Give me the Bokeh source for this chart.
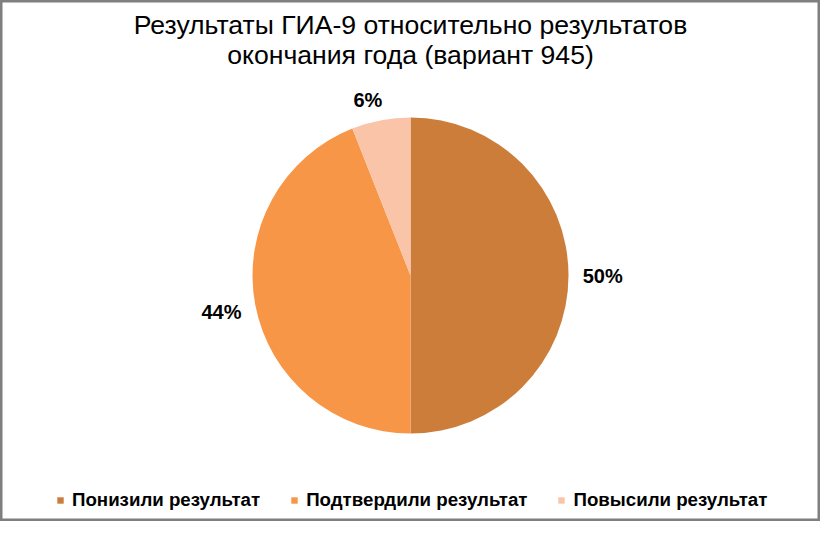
import numpy as np
from bokeh.plotting import figure
from bokeh.models import ColumnDataSource, Range1d, Legend, LegendItem
from bokeh.core.properties import value
from bokeh.embed import file_html
from bokeh.resources import INLINE

# ---- data ----
title_lines = ["Результаты ГИА-9 относительно результатов",
               "окончания года (вариант 945)"]
categories = ["Понизили результат", "Подтвердили результат", "Повысили результат"]
shares = [50, 44, 6]
colors = ["#CD7D3A", "#F79646", "#F9C4A8"]

FONT = "Liberation Sans"
W, H = 820, 521

p = figure(width=W, height=H, x_range=Range1d(0, W), y_range=Range1d(0, H),
           output_backend="svg", toolbar_location=None, min_border=0)
p.axis.visible = False
p.grid.visible = False
p.outline_line_color = "#7F7F7F"
p.outline_line_width = 4
p.background_fill_color = "white"
p.border_fill_color = "white"

# title
p.text(x=[W / 2, W / 2], y=[497, 467], text=title_lines,
       text_font=value(FONT), text_font_size="26.6px", text_color="black",
       text_align="center", text_baseline="middle")

# pie
cx, cy, r = 410, 246, 158
vals = np.array(shares, dtype=float)
frac = vals / vals.sum()
ends = np.cumsum(frac) * 2 * np.pi
starts = ends - frac * 2 * np.pi
src = ColumnDataSource(dict(cat=categories,
                            start=np.pi / 2 - starts,
                            end=np.pi / 2 - ends,
                            color=colors))
wr = p.wedge(x=cx, y=cy, radius=r, start_angle="start", end_angle="end",
             direction="clock", fill_color="color", line_color=None, source=src)

# data labels outside end
mid = np.pi / 2 - (starts + ends) / 2
labels = [f"{int(v)}%" for v in shares]
lw = np.array([11.5 * len(t) for t in labels])
lh = 6.0
dist = r + 17 + np.abs(np.cos(mid)) * lw / 2 + np.abs(np.sin(mid)) * lh / 2
ang = mid + 0.05 * (np.abs(np.sin(mid)) > 0.9)
lsrc = ColumnDataSource(dict(x=cx + dist * np.cos(ang), y=cy + dist * np.sin(ang), t=labels))
p.text(x="x", y="y", text="t", source=lsrc, text_font=value(FONT),
       text_font_size="20px", text_font_style="bold", text_color="black",
       text_align="center", text_baseline="middle")

# legend
items = [LegendItem(label=c, renderers=[wr], index=i) for i, c in enumerate(categories)]
legend = Legend(items=items, orientation="horizontal", location=(56, 10),
                glyph_width=8, glyph_height=8, label_standoff=8, spacing=30,
                padding=0, margin=0, border_line_color=None,
                background_fill_alpha=0, label_text_font=FONT,
                label_text_font_size="18.7px", label_text_font_style="bold",
                label_text_color="black", label_height=20)
p.add_layout(legend)

open("out.html", "w").write(file_html(p, INLINE))
